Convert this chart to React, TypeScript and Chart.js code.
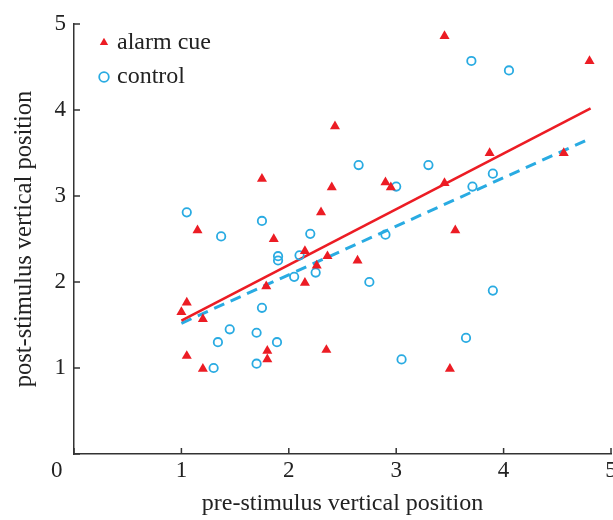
import React, { useEffect, useRef } from 'react';
import { Chart, registerables } from 'chart.js';

Chart.register(...registerables);

// alarm cue (red triangles)
const alarmX = [3.45, 4.80, 2.43, 1.75, 2.40, 2.90, 2.95, 3.45, 3.87, 4.56, 2.30, 1.15, 3.55, 1.86, 2.15, 2.36, 2.26, 2.64, 2.15, 1.79, 1.05, 1.00, 1.20, 2.35, 1.05, 1.80, 1.80, 1.20, 3.50];
const alarmY = [4.86, 4.57, 3.81, 3.20, 3.10, 3.16, 3.10, 3.15, 3.50, 3.50, 2.81, 2.60, 2.60, 2.50, 2.36, 2.30, 2.19, 2.25, 1.99, 1.95, 1.76, 1.65, 1.57, 1.21, 1.14, 1.20, 1.10, 0.99, 0.99];

// control (blue open circles)
const controlX = [3.70, 4.05, 2.65, 3.30, 3.90, 3.00, 3.71, 1.05, 1.75, 1.37, 2.20, 2.90, 1.90, 1.90, 2.10, 2.25, 2.05, 2.75, 3.90, 1.75, 1.45, 1.70, 3.65, 1.34, 1.89, 3.05, 1.30, 1.70];
const controlY = [4.57, 4.46, 3.36, 3.36, 3.26, 3.11, 3.11, 2.81, 2.71, 2.53, 2.56, 2.55, 2.30, 2.25, 2.31, 2.11, 2.06, 2.00, 1.90, 1.70, 1.45, 1.41, 1.35, 1.30, 1.30, 1.10, 1.00, 1.05];

// regression lines
const alarmFitX = [1.0, 4.81];
const alarmFitY = [1.55, 4.02];
const controlFitX = [1.0, 4.81];
const controlFitY = [1.52, 3.67];

const seriesLabels = ['alarm cue', 'control'];
const xTitle = 'pre-stimulus vertical position';
const yTitle = 'post-stimulus vertical position';

const RED = '#ec1c24';
const BLUE = '#29abe2';
const INK = '#222222';
const AXIS = '#333333';
const FONT = "'Liberation Serif', 'Times New Roman', serif";

const toPoints = (xs: number[], ys: number[]) => xs.map((x, i) => ({ x, y: ys[i] }));

const legendPlacer = {
  id: 'legendPlacer',
  afterLayout(chart: any) {
    const lg = chart.legend;
    const ca = chart.chartArea;
    if (lg && ca) {
      lg.left = ca.left + 18.5;
      lg.top = ca.top - 4;
    }
  },
};

// inward-pointing tick marks drawn from the library's own scales
const inwardTicks = {
  id: 'inwardTicks',
  afterDraw(chart: any) {
    const { ctx, chartArea } = chart;
    const xs = chart.scales.x;
    const ys = chart.scales.y;
    const len = 6;
    ctx.save();
    ctx.strokeStyle = AXIS;
    ctx.lineWidth = 1.5;
    ctx.beginPath();
    xs.ticks.forEach((t: any) => {
      const px = xs.getPixelForValue(t.value);
      ctx.moveTo(px, chartArea.bottom);
      ctx.lineTo(px, chartArea.bottom - len);
    });
    ys.ticks.forEach((t: any) => {
      const py = ys.getPixelForValue(t.value);
      ctx.moveTo(chartArea.left, py);
      ctx.lineTo(chartArea.left + len, py);
    });
    ctx.stroke();
    ctx.restore();
  },
};

export default function App() {
  const ref = useRef<HTMLCanvasElement | null>(null);

  useEffect(() => {
    if (!ref.current) return;
    Chart.defaults.font.family = FONT;
    const chart = new Chart(ref.current, {
      type: 'scatter',
      data: {
        datasets: [
          {
            label: seriesLabels[0],
            data: toPoints(alarmX, alarmY),
            pointStyle: 'triangle',
            pointRadius: 5.8,
            pointBackgroundColor: RED,
            pointBorderColor: RED,
            pointBorderWidth: 0,
            backgroundColor: RED,
            borderColor: RED,
            borderWidth: 0,
          },
          {
            label: seriesLabels[1],
            data: toPoints(controlX, controlY),
            pointStyle: 'circle',
            pointRadius: 4.2,
            pointBackgroundColor: 'rgba(0,0,0,0)',
            pointBorderColor: BLUE,
            pointBorderWidth: 1.8,
            backgroundColor: 'rgba(0,0,0,0)',
            borderColor: BLUE,
            borderWidth: 1.8,
          },
          {
            label: 'alarm fit',
            data: toPoints(alarmFitX, alarmFitY),
            showLine: true,
            borderColor: RED,
            borderWidth: 2.6,
            pointRadius: 0,
            fill: false,
          } as any,
          {
            label: 'control fit',
            data: toPoints(controlFitX, controlFitY),
            showLine: true,
            borderColor: BLUE,
            borderWidth: 3,
            borderDash: [11, 7],
            pointRadius: 0,
            fill: false,
          } as any,
        ],
      },
      options: {
        responsive: false,
        animation: false,
        devicePixelRatio: 1,
        events: [],
        layout: { autoPadding: false, padding: { top: 24, right: 2, left: 0, bottom: 0 } } as any,
        plugins: {
          tooltip: { enabled: false },
          legend: {
            display: true,
            position: 'chartArea' as any,
            align: 'start',
            labels: {
              usePointStyle: true,
              boxWidth: 2,
              boxHeight: 6.8,
              padding: 10.5,
              color: INK,
              font: { size: 24, family: FONT },
              filter: (item: any) => item.datasetIndex < 2,
            },
          },
        },
        scales: {
          x: {
            type: 'linear',
            min: 0,
            max: 5,
            ticks: {
              stepSize: 1,
              autoSkip: false,
              maxRotation: 0,
              padding: 3,
              color: INK,
              font: { size: 23, family: FONT },
              callback: (v: any) => (v === 0 ? '0      ' : String(v)),
            },
            grid: { drawOnChartArea: false, drawTicks: false },
            border: { display: true, color: AXIS, width: 1.5 },
            title: {
              display: true,
              text: xTitle,
              color: INK,
              font: { size: 24, family: FONT },
              padding: { top: 0, bottom: 2 },
            },
            afterFit: (s: any) => {
              s.height = 66;
              s.paddingLeft = 0;
              s.paddingRight = 0;
            },
          },
          y: {
            type: 'linear',
            min: 0,
            max: 5,
            ticks: {
              stepSize: 1,
              padding: 8,
              color: INK,
              font: { size: 23, family: FONT },
              callback: (v: any) => (v === 0 ? '' : String(v)),
            },
            grid: { drawOnChartArea: false, drawTicks: false },
            border: { display: true, color: AXIS, width: 1.5 },
            title: {
              display: true,
              text: yTitle,
              color: INK,
              font: { size: 24.5, family: FONT },
              padding: { top: 9.6, bottom: 0 },
            },
            afterFit: (s: any) => {
              s.width = 74;
              s.paddingTop = 0;
              s.paddingBottom = 0;
            },
          },
        },
      },
      plugins: [legendPlacer, inwardTicks],
    });
    return () => chart.destroy();
  }, []);

  return (
    <div style={{ position: 'absolute', left: 0, top: 0, width: 613, height: 520, background: '#fff' }}>
      <canvas ref={ref} width={613} height={520} style={{ display: 'block', width: 613, height: 520 }} />
    </div>
  );
}
